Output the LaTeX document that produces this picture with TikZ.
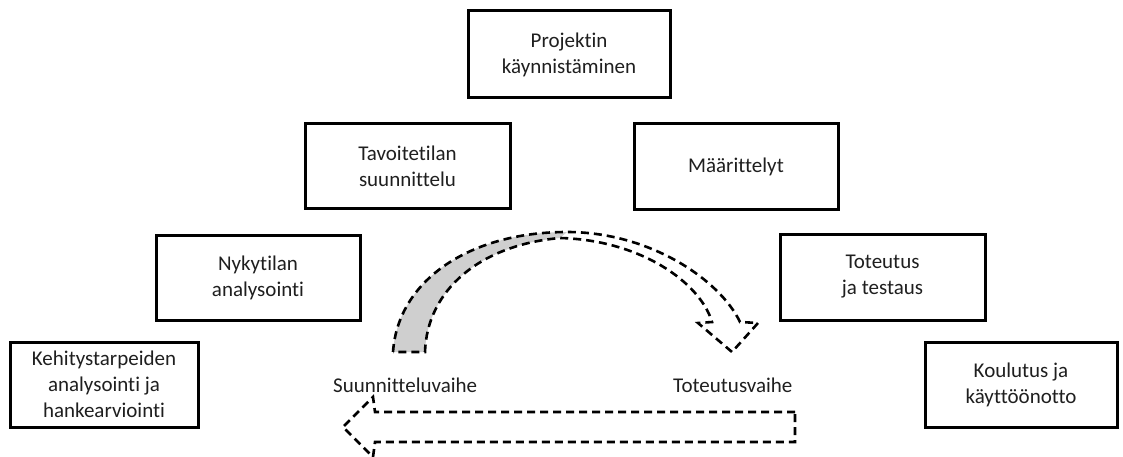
\documentclass[tikz,border=0pt]{standalone}
\usepackage{fontspec}
\setmainfont{Carlito}[Ligatures=NoCommon]
\definecolor{txt}{HTML}{1F1F1F}
\definecolor{bandgray}{HTML}{CFCFCF}
\tikzset{
  phasebox/.style={draw=black, line width=3pt, fill=white, align=center, text=txt,
    font=\fontsize{21}{26}\selectfont, inner sep=2pt},
  phaselabel/.style={anchor=base west, inner sep=0pt, text=txt, font=\fontsize{21}{26}\selectfont},
  dashline/.style={draw=black, line width=2.6pt, dash pattern=on 8pt off 5pt, line join=miter}
}
\begin{document}
\begin{tikzpicture}[x=1pt,y=-1pt]
\useasboundingbox (0,0) rectangle (1123,457);
\node[phasebox, minimum width=202pt, minimum height=87pt] (proj) at (569,54.5) {Projektin\\käynnistäminen};
\node[phasebox, minimum width=205pt, minimum height=84pt] (tavo) at (407.5,166) {Tavoitetilan\\suunnittelu};
\node[phasebox, minimum width=204pt, minimum height=85pt] (maar) at (736,166.5) {Määrittelyt};
\node[phasebox, minimum width=204pt, minimum height=85pt] (nyky) at (258,277.5) {Nykytilan\\analysointi};
\node[phasebox, minimum width=205pt, minimum height=86pt] (tote) at (882.5,277) {Toteutus\\ja testaus};
\node[phasebox, minimum width=188pt, minimum height=85pt] (kehi) at (104,384.5) {Kehitystarpeiden\\analysointi ja\\hankearviointi};
\node[phasebox, minimum width=192pt, minimum height=85pt] (koul) at (1021,384.5) {Koulutus ja\\käyttöönotto};

\node[phaselabel] (suun) at (333,392) {Suunnitteluvaihe};
\node[phaselabel] (totv) at (673,392) {Toteutusvaihe};

% curved arrow: grey rear part
\fill[bandgray] (393,352) .. controls (398,280) and (470,232) .. (567,232)
  -- (560,238) .. controls (480,245) and (427,290) .. (425,352) -- cycle;
% curved arrow outline
\draw[dashline] (393,352) .. controls (398,280) and (470,232) .. (567,232)
  .. controls (650,232) and (720,280) .. (740,322)
  -- (758,323) -- (732,352) -- (698,323) -- (712,322)
  .. controls (700,282) and (640,240) .. (560,238)
  .. controls (480,245) and (427,290) .. (425,352) -- cycle;

% straight arrow pointing left
\draw[dashline] (795,412) -- (375,412) -- (373,397) -- (343,427) -- (373,457)
  -- (375,442) -- (795,442) -- cycle;
\end{tikzpicture}
\end{document}
